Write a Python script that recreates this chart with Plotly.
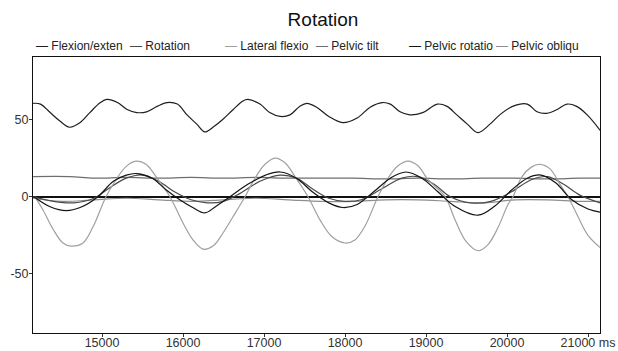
import plotly.graph_objects as go

# ---- data (time in ms, angle in degrees) ----
flex_t = [14150, 14240, 14360, 14480, 14600, 14730, 14850, 14980, 15060, 15190, 15310, 15430, 15550,
          15680, 15800, 15930, 16050, 16170, 16270, 16370, 16490, 16620, 16740, 16800, 16950, 17070,
          17200, 17320, 17440, 17530, 17650, 17800, 17970, 18150, 18310, 18460, 18560, 18680, 18800,
          18960, 19140, 19260, 19380, 19510, 19640, 19790, 19910, 20070, 20250, 20370, 20490, 20620,
          20740, 20860, 20990, 21150]
flex_v = [60.5, 60, 54.5, 49, 45, 48, 54.5, 61, 63, 61, 56.5, 54.5, 55,
          58.5, 61, 60, 53, 47, 42, 45, 50, 56.5, 62, 63, 60, 54.5,
          52, 53, 58.5, 60.5, 58, 52, 48, 51, 58, 61, 60, 55, 53,
          54.5, 60, 58.5, 53, 47, 41.5, 47, 53, 58.5, 60, 55, 54, 56.5,
          60, 58.5, 53, 43]

rot_t = [14150, 14400, 14650, 14900, 15100, 15300, 15500, 15700, 15900, 16100, 16300, 16500, 16700,
         16950, 17200, 17400, 17600, 17800, 18000, 18200, 18450, 18700, 18900, 19100, 19300, 19550,
         19800, 20050, 20300, 20500, 20700, 20900, 21150]
rot_v = [0, -3, -4, -1, 6, 12, 14, 10, 3, -2, -4, -3, 2,
         10, 14, 12, 5, -1, -3, -2, 5, 12, 13, 8, 0, -4,
         -3, 3, 11, 13, 8, 1, -4]

lat_t = [14170, 14270, 14395, 14518, 14617, 14765, 14889, 15049, 15173, 15296, 15420, 15543, 15667,
         15839, 16000, 16123, 16247, 16370, 16494, 16617, 16765, 16889, 17012, 17136, 17259, 17383,
         17543, 17691, 17840, 18000, 18123, 18247, 18407, 18531, 18654, 18778, 18901, 19025, 19235,
         19358, 19494, 19642, 19765, 19889, 20012, 20074, 20185, 20296, 20407, 20531, 20654, 20753,
         20877, 21000, 21150]
lat_v = [0, -8.5, -21, -30, -32, -30, -19.5, 0, 11, 19.5, 23, 21, 13,
         0, -17, -28, -34, -32, -23.5, -13, 0, 12, 21, 25, 22, 13,
         0, -15, -26, -30, -28, -19, 0, 12, 20, 23, 20, 11, 0,
         -15, -29, -35, -31, -20, -5, 0, 13, 19, 21, 18, 8, 0,
         -13, -25, -33]

tilt_t = [14150, 14600, 14900, 15300, 15700, 16100, 16500, 16900, 17300, 17700, 18100, 18500, 18900,
          19300, 19700, 20100, 20500, 20900, 21150]
tilt_v = [13, 13, 12, 12.5, 12, 12.5, 12, 12.5, 12, 12, 12, 11.5, 12,
          11.5, 12, 12, 11.5, 12, 12]

prot_t = [14160, 14360, 14560, 14730, 14950, 15140, 15300, 15430, 15620, 15790, 15960, 16120, 16270,
          16400, 16580, 16800, 17020, 17200, 17400, 17600, 17800, 17975, 18150, 18350, 18560, 18750,
          18950, 19150, 19350, 19640, 19850, 20050, 20250, 20420, 20600, 20800, 21000, 21150]
prot_v = [0, -6.5, -9, -7, 0, 10, 14, 15, 12, 4.5, -2, -7, -10.5,
          -6.5, 0, 8, 14, 16, 12, 3, -4, -7, -5, 3, 12, 16,
          12, 3, -6, -12, -6, 4, 12, 14, 9, -2, -8, -10]

obl_t = [14150, 14500, 14900, 15300, 15700, 16100, 16500, 16900, 17300, 17700, 18100, 18500, 18900,
         19300, 19700, 20100, 20500, 20900, 21150]
obl_v = [-1, -3, -2, -1, -2, -3, -2, -1, -2, -3, -3, -2, -2,
         -3, -4, -2, -2, -3, -3]

names = ["Flexion/exten", "Rotation", "Lateral flexio", "Pelvic tilt", "Pelvic rotatio", "Pelvic obliqu"]
x_ticks = [15000, 16000, 17000, 18000, 19000, 20000, 21000]
x_tick_text = ["15000", "16000", "17000", "18000", "19000", "20000", "21000 ms"]
y_ticks = [-50, 0, 50]
y_tick_text = ["-50", "0", "50"]

series = [(flex_t, flex_v), (rot_t, rot_v), (lat_t, lat_v), (tilt_t, tilt_v), (prot_t, prot_v), (obl_t, obl_v)]
colors = ["#1e1e1e", "#4a4a4a", "#a0a0a0", "#6e6e6e", "#141414", "#8e8e8e"]
order = [3, 5, 1, 2, 4, 0]  # draw order

W, H = 618, 351
L, R, T, B = 33, 18, 57, 18
pw, ph = W - L - R, H - T - B

fig = go.Figure()
for i in order:
    t, v = series[i]
    fig.add_trace(go.Scatter(x=t, y=v, mode="lines", name=names[i],
                             line=dict(color=colors[i], width=1.2, shape="spline", smoothing=1),
                             showlegend=False))

font = "Liberation Sans, Arial, sans-serif"
fig.update_layout(
    width=W, height=H,
    margin=dict(l=L, r=R, t=T, b=B),
    paper_bgcolor="white", plot_bgcolor="white",
    title=dict(text="Rotation", x=323 / W, xref="container", xanchor="center",
               y=1 - 19 / H, yref="container", yanchor="middle",
               font=dict(family=font, size=19, color="#111")),
    font=dict(family=font),
)
fig.update_xaxes(range=[14148, 21148], showgrid=False, zeroline=False, automargin=False,
                 showline=True, mirror=True, linecolor="#111", linewidth=1,
                 ticks="outside", ticklen=3, tickcolor="#333", ticklabelstandoff=-5,
                 tickvals=x_ticks, ticktext=x_tick_text,
                 tickfont=dict(family=font, size=12.5, color="#333"))
fig.update_yaxes(range=[-88.3, 90.5], showgrid=False, automargin=False,
                 zeroline=True, zerolinecolor="#111", zerolinewidth=2,
                 showline=True, mirror=True, linecolor="#111", linewidth=1,
                 ticks="outside", ticklen=3, tickcolor="#333", ticklabelstandoff=-2,
                 tickvals=y_ticks, ticktext=y_tick_text,
                 tickfont=dict(family=font, size=12.5, color="#333"))

def px2x(px):
    return (px - L) / pw

def py2y(py):
    return (H - B - py) / ph

leg_x = [35, 129, 224, 315, 408, 495]
for name, c, xp in zip(names, colors, leg_x):
    fig.add_annotation(text=f"<span style='color:{c}'>—</span> {name}", xref="paper", yref="paper",
                       x=px2x(xp), y=py2y(46), xanchor="left", yanchor="middle", showarrow=False,
                       xshift=-1, font=dict(family=font, size=12, color="#222"))

fig.write_html("out.html", config={"displayModeBar": False},
               post_script="document.body.style.margin='0';"
                           "document.documentElement.style.overflow='hidden';")
